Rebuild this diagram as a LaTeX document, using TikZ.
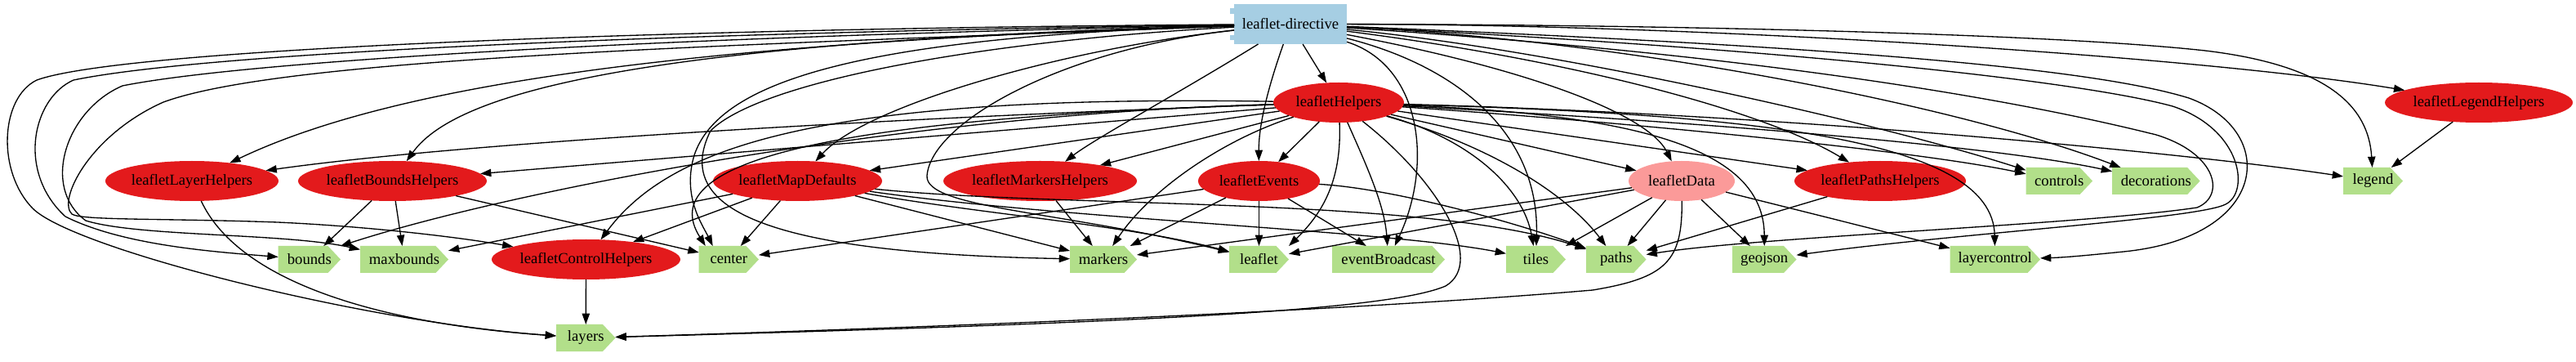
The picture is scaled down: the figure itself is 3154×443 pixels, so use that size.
\documentclass[tikz,border=0pt]{standalone}
\usepackage{fontspec}
\setmainfont{Liberation Serif}
\usetikzlibrary{arrows.meta,shapes.geometric,calc}
\makeatletter
\pgfdeclareshape{cdsshape}{
  \inheritsavedanchors[from=rectangle]
  \inheritanchorborder[from=rectangle]
  \inheritanchor[from=rectangle]{center}
  \inheritanchor[from=rectangle]{north}
  \inheritanchor[from=rectangle]{south}
  \inheritanchor[from=rectangle]{east}
  \inheritanchor[from=rectangle]{west}
  \inheritanchor[from=rectangle]{north east}
  \inheritanchor[from=rectangle]{north west}
  \inheritanchor[from=rectangle]{south east}
  \inheritanchor[from=rectangle]{south west}
  \backgroundpath{
    \southwest \pgf@xa=\pgf@x \pgf@ya=\pgf@y
    \northeast \pgf@xb=\pgf@x \pgf@yb=\pgf@y
    \pgf@xc=\pgf@xb \advance\pgf@xc by -15.5pt
    \pgf@yc=\pgf@ya \advance\pgf@yc by \pgf@yb \divide\pgf@yc by 2
    \pgfpathmoveto{\pgfqpoint{\pgf@xa}{\pgf@ya}}
    \pgfpathlineto{\pgfqpoint{\pgf@xa}{\pgf@yb}}
    \pgfpathlineto{\pgfqpoint{\pgf@xc}{\pgf@yb}}
    \pgfpathlineto{\pgfqpoint{\pgf@xb}{\pgf@yc}}
    \pgfpathlineto{\pgfqpoint{\pgf@xc}{\pgf@ya}}
    \pgfpathclose
  }
}
\makeatother
\definecolor{cblue}{HTML}{A6CEE3}
\definecolor{cred}{HTML}{E31A1C}
\definecolor{cpink}{HTML}{FB9A99}
\definecolor{cgreen}{HTML}{B2DF8A}
\tikzset{
  every node/.style={font=\fontsize{18.67}{22}\selectfont, inner sep=0pt, outer sep=0pt},
  rootbox/.style={rectangle, fill=cblue, minimum width=138, minimum height=49},
  svcnode/.style={ellipse, fill=cred, minimum height=49},
  svcpink/.style={svcnode, fill=cpink},
  dirbox/.style={cdsshape, fill=cgreen, minimum height=33},
  dep/.style={draw=black, line width=1.33pt, -{Triangle[length=13.3pt,width=9.3pt]}}
}
\begin{document}
\begin{tikzpicture}[x=1pt,y=-1pt]
\fill[white] (0,0) rectangle (3154,443);
\useasboundingbox (0,0) rectangle (3154,443);

% root
\node[rootbox] (r) at (1580,29.5) {leaflet-directive};
\fill[cblue] ($(r.north west)+(-5,5)$) rectangle ($(r.north west)+(5,11.7)$);
\fill[cblue] ($(r.north west)+(-5,38)$) rectangle ($(r.north west)+(5,44.3)$);

% services
\node[svcnode, minimum width=160] (lh) at (1639,125.5) {leafletHelpers};
\node[svcnode, minimum width=230] (lgh) at (3035,125.5) {leafletLegendHelpers};
\node[svcnode, minimum width=212] (llh) at (235,221.5) {leafletLayerHelpers};
\node[svcnode, minimum width=231] (lbh) at (480.5,221.5) {leafletBoundsHelpers};
\node[svcnode, minimum width=207] (lmd) at (976.5,221.5) {leafletMapDefaults};
\node[svcnode, minimum width=237] (lmh) at (1273.5,221.5) {leafletMarkersHelpers};
\node[svcnode, minimum width=149] (le) at (1541.5,221.5) {leafletEvents};
\node[svcpink, minimum width=130] (ld) at (2059,221.5) {leafletData};
\node[svcnode, minimum width=210] (lph) at (2302,221.5) {leafletPathsHelpers};
\node[svcnode, minimum width=231] (lch) at (717.5,317.5) {leafletControlHelpers};

% directives
\node[dirbox, minimum width=81.5] (dcontrols) at (2521.25,221.5) {controls};
\node[dirbox, minimum width=107.6] (ddecorations) at (2639.8,221.5) {decorations};
\node[dirbox, minimum width=73] (dlegend) at (2905.5,221.5) {legend};
\node[dirbox, minimum width=76.3] (dbounds) at (378.85,317.5) {bounds};
\node[dirbox, minimum width=108] (dmaxbounds) at (495,317.5) {maxbounds};
\node[dirbox, minimum width=73.3] (dcenter) at (892.35,317.5) {center};
\node[dirbox, minimum width=82] (dmarkers) at (1351,317.5) {markers};
\node[dirbox, minimum width=73] (dleaflet) at (1541.5,317.5) {leaflet};
\node[dirbox, minimum width=138] (deventBroadcast) at (1700,317.5) {eventBroadcast};
\node[dirbox, minimum width=73] (dtiles) at (1880.5,317.5) {tiles};
\node[dirbox, minimum width=73.6] (dpaths) at (1978.8,317.5) {paths};
\node[dirbox, minimum width=78.5] (dgeojson) at (2160.25,317.5) {geojson};
\node[dirbox, minimum width=110.5] (dlayercontrol) at (2442.75,317.5) {layercontrol};
\node[dirbox, minimum width=72.5] (dlayers) at (717.25,413.5) {layers};

% ---- edges from leaflet-directive
\draw[dep] (r) -- (lh);
\draw[dep] (r) .. controls (1555,100) and (1541,150) .. (le);
\draw[dep] (r) .. controls (1450,110) and (1340,170) .. (lmh);
\draw[dep] (r) .. controls (1300,60) and (1060,130) .. (lmd);
\draw[dep] (r) .. controls (900,50) and (500,95) .. (llh);
\draw[dep] (r) .. controls (800,50) and (560,110) .. (lbh);
\draw[dep] (r) .. controls (900,55) and (350,70) .. (200,125) .. controls (110,165) and (70,245) .. (88,262) .. controls (100,270) and (200,267) .. (340,272) .. controls (450,277) and (560,290) .. (lch);
\draw[dep] (r) .. controls (800,35) and (150,60) .. (45,98) .. controls (0,120) and (-4,210) .. (40,255) .. controls (90,305) and (450,395) .. (dlayers);
\draw[dep] (r) .. controls (800,40) and (250,65) .. (90,98) .. controls (40,120) and (20,210) .. (80,265) .. controls (150,300) and (260,308) .. (dbounds);
\draw[dep] (r) .. controls (800,45) and (300,75) .. (150,105) .. controls (80,135) and (50,230) .. (105,270) .. controls (170,290) and (350,285) .. (dmaxbounds);
\draw[dep] (r) .. controls (1050,45) and (880,100) .. (850,190) .. controls (835,240) and (860,275) .. (dcenter.140);
\draw[dep] (r) .. controls (1200,50) and (930,100) .. (870,160) .. controls (820,260) and (950,310) .. (dmarkers);
\draw[dep] (r) .. controls (1300,60) and (1140,150) .. (1135,215) .. controls (1132,255) and (1300,258) .. (dleaflet);
\draw[dep] (r) .. controls (1780,80) and (1885,160) .. (dtiles);
\draw[dep] (r) .. controls (1740,80) and (1755,200) .. (deventBroadcast);
\draw[dep] (r) .. controls (1850,80) and (2015,135) .. (ld);
\draw[dep] (r) .. controls (1900,70) and (2150,130) .. (lph);
\draw[dep] (r) .. controls (2100,30) and (2700,70) .. (lgh);
\draw[dep] (r) .. controls (2000,30) and (2500,40) .. (2700,62) .. controls (2850,80) and (2900,130) .. (dlegend);
\draw[dep] (r) .. controls (1900,60) and (2300,150) .. (dcontrols);
\draw[dep] (r) .. controls (2000,50) and (2400,130) .. (ddecorations);
\draw[dep] (r) .. controls (2200,55) and (2550,80) .. (2680,120) .. controls (2790,160) and (2780,290) .. (2600,308) .. controls (2560,312) and (2530,315) .. (dlayercontrol);
\draw[dep] (r) .. controls (2200,60) and (2550,100) .. (2660,130) .. controls (2745,158) and (2755,235) .. (2725,250) .. controls (2690,268) and (2400,285) .. (dgeojson);
\draw[dep] (r) .. controls (2200,70) and (2500,130) .. (2640,165) .. controls (2715,188) and (2725,240) .. (2690,254) .. controls (2550,275) and (2150,290) .. (dpaths);

% ---- edges from leafletHelpers
\draw[dep] (lh) -- (le);
\draw[dep] (lh) -- (ld);
\draw[dep] (lh) -- (lmd);
\draw[dep] (lh) .. controls (1200,140) and (600,170) .. (llh);
\draw[dep] (lh) -- (lbh);
\draw[dep] (lh) -- (lmh);
\draw[dep] (lh) -- (lph);
\draw[dep] (lh) .. controls (1000,115) and (820,180) .. (lch);
\draw[dep] (lh) .. controls (1100,140) and (620,235) .. (dbounds.north east);
\draw[dep] (lh) .. controls (1000,145) and (800,200) .. (dcenter.150);
\draw[dep] (lh) .. controls (1500,170) and (1410,230) .. (dmarkers);
\draw[dep] (lh) .. controls (1643,220) and (1620,260) .. (dleaflet.north east);
\draw[dep] (lh) .. controls (1672,200) and (1695,250) .. (deventBroadcast);
\draw[dep] (lh) .. controls (1800,170) and (1865,230) .. (dtiles);
\draw[dep] (lh) .. controls (1830,180) and (1920,240) .. (dpaths);
\draw[dep] (lh) .. controls (1760,220) and (1820,320) .. (1770,350) .. controls (1700,380) and (1400,395) .. (dlayers);
\draw[dep] (lh) .. controls (2200,140) and (2700,190) .. (dlegend);
\draw[dep] (lh) .. controls (2000,150) and (2350,185) .. (dcontrols);
\draw[dep] (lh) .. controls (2100,150) and (2450,180) .. (ddecorations);
\draw[dep] (lh) .. controls (2000,140) and (2160,180) .. (dgeojson);
\draw[dep] (lh) .. controls (2150,140) and (2440,170) .. (dlayercontrol);

% ---- edges from leafletMapDefaults
\draw[dep] (lmd) -- (dcenter);
\draw[dep] (lmd) -- (lch);
\draw[dep] (lmd) -- (dmaxbounds);
\draw[dep] (lmd) -- (dmarkers);
\draw[dep] (lmd) .. controls (1200,262) and (1380,275) .. (dleaflet);
\draw[dep] (lmd) .. controls (1300,268) and (1700,282) .. (dtiles);
\draw[dep] (lmd) .. controls (1300,255) and (1750,240) .. (dpaths);

% ---- edges from leafletEvents
\draw[dep] (le) -- (dleaflet);
\draw[dep] (le) -- (dcenter);
\draw[dep] (le) -- (dmarkers);
\draw[dep] (le) -- (deventBroadcast);
\draw[dep] (le) .. controls (1700,230) and (1850,270) .. (dpaths);

% ---- edges from leafletData
\draw[dep] (ld) -- (dleaflet);
\draw[dep] (ld) -- (dmarkers);
\draw[dep] (ld) -- (dtiles.north east);
\draw[dep] (ld) -- (dpaths);
\draw[dep] (ld) -- (dgeojson);
\draw[dep] (ld) -- (dlayercontrol);
\draw[dep] (ld) .. controls (2060,320) and (2040,340) .. (1950,355) .. controls (1600,385) and (1000,405) .. (dlayers);

% ---- other services
\draw[dep] (lbh) -- (dbounds);
\draw[dep] (lbh) -- (dmaxbounds);
\draw[dep] (lbh) -- (dcenter);
\draw[dep] (llh) .. controls (290,340) and (450,395) .. (dlayers);
\draw[dep] (lch) -- (dlayers);
\draw[dep] (lmh) -- (dmarkers);
\draw[dep] (lph) -- (dpaths);
\draw[dep] (lgh) -- (dlegend);
\end{tikzpicture}
\end{document}
